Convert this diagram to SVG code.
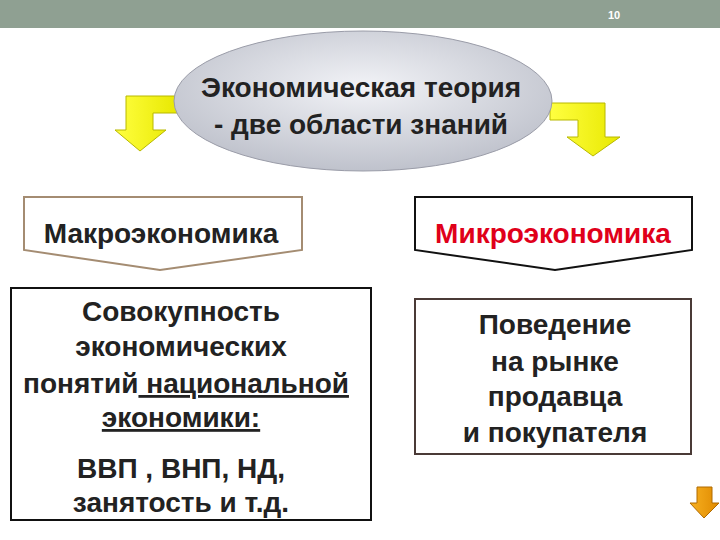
<svg xmlns="http://www.w3.org/2000/svg" width="720" height="540" viewBox="0 0 720 540">
<defs>
<radialGradient id="eg" cx="0.5" cy="0.4" r="0.6"><stop offset="0" stop-color="#f2f3f7"/><stop offset="1" stop-color="#bfc2cc"/></radialGradient>
<linearGradient id="yg" x1="0" y1="0" x2="1" y2="0"><stop offset="0" stop-color="#ffff40"/><stop offset="1" stop-color="#e8e800"/></linearGradient>
<linearGradient id="og" x1="0" y1="0" x2="1" y2="0"><stop offset="0" stop-color="#f7b020"/><stop offset="1" stop-color="#e08a00"/></linearGradient>
</defs>
<style>
.t{font-family:"Liberation Sans",Arial,sans-serif;font-weight:bold;font-size:28px;fill:#222;text-anchor:middle}
.ya{fill:url(#yg);stroke:#b8b800;stroke-width:1}
</style>
<rect width="720" height="540" fill="#fff"/>
<rect x="0" y="0" width="720" height="28" fill="#8fa092"/>
<text x="614" y="19" font-family="Liberation Sans,Arial,sans-serif" font-size="11" font-weight="bold" fill="#fff" text-anchor="middle">10</text>
<g id="connectors">
<path class="ya" d="M178,96 L126,96 L126,130 L115,130 L140,151 L166,130 L153,130 L153,113 L178,113 Z"/>
<path class="ya" d="M550,103 L605,103 L605,137 L620,137 L593,156 L567,137 L578,137 L578,120 L550,120 Z"/>
</g>
<g id="theory">
<ellipse cx="363" cy="101" rx="189" ry="70" fill="url(#eg)" stroke="#9a9ca8" stroke-width="1"/>
<text class="t" x="361" y="97" font-size="30">Экономическая теория</text>
<text class="t" x="361" y="134" font-size="30">- две области знаний</text>
</g>
<g id="macro">
<path d="M24,197 L302,197 L302,250 L160,270 L24,250 Z" fill="#fff" stroke="#a48c72" stroke-width="2"/>
<text class="t" x="161" y="243" font-size="30">Макроэкономика</text>
</g>
<g id="micro">
<path d="M415,197 L692,197 L692,250 L555,270 L415,250 Z" fill="#fff" stroke="#111" stroke-width="2"/>
<text class="t" x="553" y="243" font-size="30" style="fill:#e0001a">Микроэкономика</text>
</g>
<g id="macro-desc">
<rect x="11" y="288" width="360" height="232" fill="#fff" stroke="#111" stroke-width="2"/>
<text class="t" x="181" y="321">Совокупность</text>
<text class="t" x="181" y="356">экономических</text>
<text class="t" x="186" y="393">понятий<tspan text-decoration="underline"> национальной</tspan></text>
<text class="t" x="181" y="427" text-decoration="underline">экономики:</text>
<text class="t" x="181" y="478">ВВП , ВНП, НД,</text>
<text class="t" x="181" y="512">занятость и т.д.</text>
</g>
<g id="micro-desc">
<rect x="415" y="299" width="276" height="155" fill="#fff" stroke="#4a3a36" stroke-width="2"/>
<text class="t" x="555" y="334" font-size="29">Поведение</text>
<text class="t" x="555" y="371" font-size="29">на рынке</text>
<text class="t" x="555" y="406" font-size="29">продавца</text>
<text class="t" x="555" y="442" font-size="29">и покупателя</text>
</g>
<path d="M697,487 L712,487 L712,503 L719,503 L704,518 L690,503 L697,503 Z" fill="url(#og)" stroke="#b06a00" stroke-width="1"/>
</svg>
